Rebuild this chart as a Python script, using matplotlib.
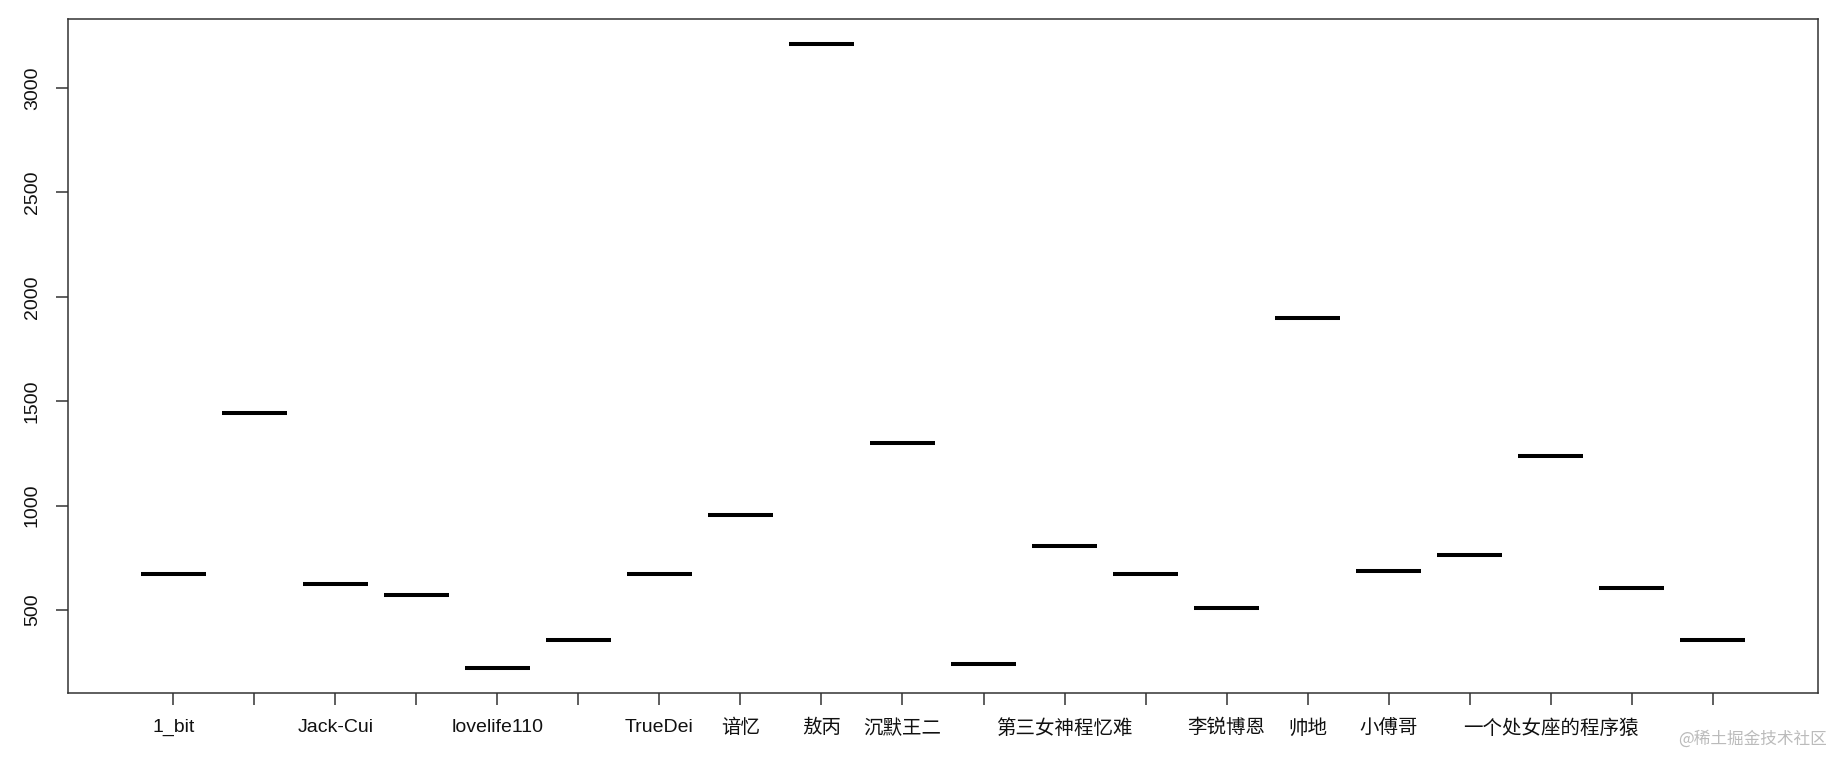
import matplotlib
matplotlib.use("Agg")
import matplotlib.pyplot as plt
import numpy as np

categories = ["1_bit", "", "Jack-Cui", "", "lovelife110", "", "TrueDei", "谙忆",
              "敖丙", "沉默王二", "", "第三女神程忆难", "", "李锐博恩", "帅地",
              "小傅哥", "", "一个处女座的程序猿", "", ""]
values = [674, 1445, 623, 572, 224, 359, 674, 955, 3212, 1298,
          240, 809, 674, 511, 1900, 685, 764, 1236, 606, 359]
yticks = [500, 1000, 1500, 2000, 2500, 3000]

fams = ["Liberation Sans", "Noto Sans CJK SC", "DejaVu Sans"]
plt.rcParams['font.family'] = fams

fig = plt.figure(figsize=(18.44, 7.57), dpi=100)
ax = fig.add_axes([68/1844, 1-692.7/757, (1818-68)/1844, (692.7-18.8)/757])

n = len(values)
pos = np.arange(1, n+1)
ax.hlines(values, pos-0.4, pos+0.4, colors="black", linewidth=2.9, capstyle="butt")

xr = (0.5, n+0.5)
d = (xr[1]-xr[0])*0.04
ax.set_xlim(xr[0]-d, xr[1]+d)
lo, hi = min(values), max(values)
dy = (hi-lo)*0.04
ax.set_ylim(lo-dy, hi+dy)

ax.set_xticks(pos)
ax.set_xticklabels(categories, fontsize=14, color="#111111")
ax.set_yticks(yticks)
ax.set_yticklabels([str(v) for v in yticks], fontsize=14, rotation=90,
                   va="center", color="#111111")

for s in ax.spines.values():
    s.set_color("#333333")
    s.set_linewidth(1.1)
ax.tick_params(axis="x", length=8.5, width=1.1, color="#333333", pad=10.5)
ax.tick_params(axis="y", length=8.5, width=1.1, color="#333333", pad=11)

fig.text(0.9905, 0.012, "@稀土掘金技术社区", ha="right", va="bottom",
         fontsize=12, color="#bbbbbb", family=["Noto Sans CJK SC", "DejaVu Sans"])

fig.savefig("out.png", dpi=100)
